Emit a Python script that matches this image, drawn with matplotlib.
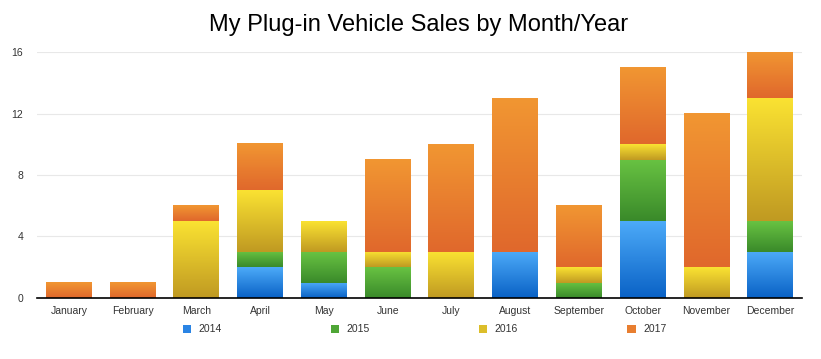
import numpy as np
import matplotlib.pyplot as plt
from matplotlib.colors import LinearSegmentedColormap
from matplotlib.patches import Patch

plt.rcParams['font.family'] = ['Liberation Sans', 'DejaVu Sans']

months = ['January', 'February', 'March', 'April', 'May', 'June', 'July',
          'August', 'September', 'October', 'November', 'December']
years = ['2014', '2015', '2016', '2017']
sales_2014 = [0, 0, 0, 2, 1, 0, 0, 3, 0, 5, 0, 3]
sales_2015 = [0, 0, 0, 1, 2, 2, 0, 0, 1, 4, 0, 2]
sales_2016 = [0, 0, 5, 4, 2, 1, 3, 0, 1, 1, 2, 8]
sales_2017 = [1, 1, 1, 3, 0, 6, 7, 10, 4, 5, 10, 3]

# Verlauf je Serie: (oben, unten)
verlauf = [('#4caaf8', '#0a62c6'),
           ('#68c242', '#3a8a2a'),
           ('#fae232', '#c09a22'),
           ('#f19632', '#e0682c')]
legende_farben = ['#2a84e4', '#4fa636', '#dcbe2a', '#e87e30']

fig = plt.figure(figsize=(8.21, 3.59), dpi=100)
ax = fig.add_axes([0.045, 0.17, 0.932, 0.685])

x = np.arange(len(months))
unten = np.zeros(len(months))
for werte, (hell, dunkel), jahr in zip([sales_2014, sales_2015, sales_2016, sales_2017], verlauf, years):
    werte = np.array(werte, dtype=float)
    bars = ax.bar(x, werte, 0.72, bottom=unten, color='none', edgecolor='none')
    cmap = LinearSegmentedColormap.from_list(jahr, [dunkel, hell])
    grad = np.linspace(0, 1, 64).reshape(-1, 1)
    for b, w in zip(bars, werte):
        if w <= 0:
            continue
        x0, y0 = b.get_x(), b.get_y()
        ax.imshow(grad, cmap=cmap, origin='lower', aspect='auto', zorder=2,
                  extent=(x0, x0 + b.get_width(), y0, y0 + b.get_height()))
    unten += werte

ax.set_xlim(-0.5, 11.5)
ax.set_ylim(0, 16)
ax.set_yticks([0, 4, 8, 12, 16])
ax.set_xticks(x, months)
ax.tick_params(length=0, labelsize=7.5, colors='#333333')
ax.tick_params(axis='y', pad=10)
ax.tick_params(axis='x', pad=6)
ax.grid(axis='y', color='#e8e8e8', linewidth=0.8, zorder=0)
ax.set_axisbelow(True)
for s in ['top', 'right', 'left']:
    ax.spines[s].set_visible(False)
ax.spines['bottom'].set_color('black')
ax.spines['bottom'].set_linewidth(1.2)
ax.spines['bottom'].set_zorder(3)

fig.text(0.51, 0.93, 'My Plug-in Vehicle Sales by Month/Year', ha='center', va='center', fontsize=17)

handles = [Patch(facecolor=c, edgecolor='none') for c in legende_farben]
fig.legend(handles, years, loc='center', bbox_to_anchor=(0.517, 0.083), ncol=4, frameon=False,
           fontsize=7.5, handlelength=0.8, handleheight=0.8, handletextpad=0.7, columnspacing=10.5,
           labelcolor='#333333')

fig.savefig('out.png', dpi=100)
